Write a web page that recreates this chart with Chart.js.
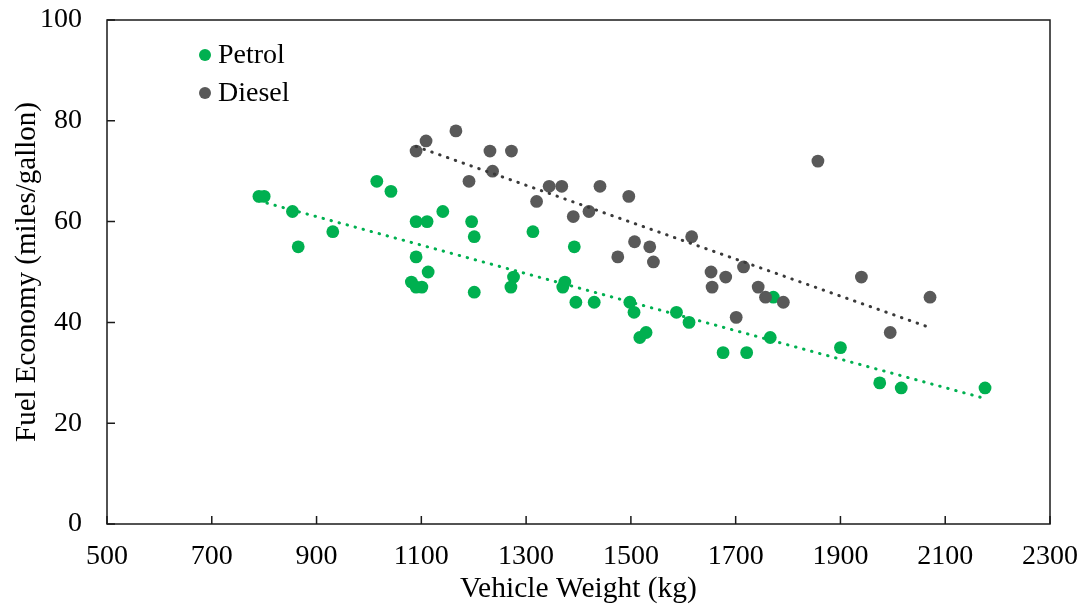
<!DOCTYPE html>
<html>
<head>
<meta charset="utf-8">
<script src="https://cdn.jsdelivr.net/npm/chart.js@4/dist/chart.umd.min.js"></script>
<style>
  html, body { margin:0; padding:0; background:#fff; }
  canvas { display:block; }
</style>
</head>
<body>
<canvas id="chart" width="1086" height="605"></canvas>
<script>
(function(){
  // Data
  const petrolWeight = [790, 800, 854, 865, 931, 1015, 1042, 1090, 1111, 1141, 1090, 1113, 1081, 1090, 1101,
                        1196, 1201, 1201, 1313, 1276, 1271, 1392, 1374, 1370, 1395, 1430, 1498, 1506, 1529, 1517,
                        1587, 1611, 1766, 1772, 1676, 1721, 1900, 1975, 2016, 2176]
  const petrolMpg    = [65, 65, 62, 55, 58, 68, 66, 60, 60, 62, 53, 50, 48, 47, 47,
                        60, 57, 46, 58, 49, 47, 55, 48, 47, 44, 44, 44, 42, 38, 37,
                        42, 40, 37, 45, 34, 34, 35, 28, 27, 27]
  const dieselWeight = [1090, 1109, 1166, 1191, 1231, 1236, 1272, 1320, 1344, 1368, 1390, 1420, 1441, 1475, 1496,
                        1507, 1536, 1543, 1616, 1653, 1681, 1655, 1715, 1743, 1757, 1791, 1701, 1857, 1940, 2071, 1995]
  const dieselMpg    = [74, 76, 78, 68, 74, 70, 74, 64, 67, 67, 61, 62, 67, 53, 65,
                        56, 55, 52, 57, 50, 49, 47, 51, 47, 45, 44, 41, 72, 49, 45, 38]

  // Linear trendline end points (as drawn in the reference)
  const petrolTrendX = [790, 2176]
  const petrolTrendY = [64.1, 24.9]
  const dieselTrendX = [1090, 2070]
  const dieselTrendY = [74.9, 39.0]

  const xTicks = [500, 700, 900, 1100, 1300, 1500, 1700, 1900, 2100, 2300]
  const yTicks = [0, 20, 40, 60, 80, 100]

  const GREEN = '#00B050'
  const GREY  = '#595959'
  const FONT  = "'Liberation Serif', 'Times New Roman', serif"
  const FSIZE = 28

  function pts(xs, ys){ return xs.map((x,i)=>({x:x, y:ys[i]})) }

  // box around plot + inside tick marks
  const frame = {
    id: 'frame',
    afterDraw(chart){
      const {ctx, chartArea:a, scales} = chart
      ctx.save()
      ctx.strokeStyle = '#1a1a1a'
      ctx.lineWidth = 1.5
      ctx.beginPath()
      xTicks.forEach(v=>{
        const px = scales.x.getPixelForValue(v)
        ctx.moveTo(px, a.bottom); ctx.lineTo(px, a.bottom-8)
      })
      yTicks.forEach(v=>{
        const py = scales.y.getPixelForValue(v)
        ctx.moveTo(a.left, py); ctx.lineTo(a.left+8, py)
      })
      ctx.stroke()
      ctx.strokeRect(a.left, a.top, a.right-a.left, a.bottom-a.top)
      ctx.restore()
    }
  }

  // legend drawn inside the plot, top-left
  const innerLegend = {
    id: 'innerLegend',
    afterDraw(chart){
      const {ctx, chartArea:a} = chart
      const items = chart.data.datasets.filter(d=>!d.isTrend)
      ctx.save()
      ctx.font = FSIZE + 'px ' + FONT
      ctx.textBaseline = 'middle'
      items.forEach((d,i)=>{
        const cy = a.top + 35 + i*38
        const cx = a.left + 98
        ctx.fillStyle = d.backgroundColor
        ctx.beginPath(); ctx.arc(cx, cy, 6, 0, Math.PI*2); ctx.fill()
        ctx.fillStyle = '#000'
        ctx.fillText(d.label, cx + 13, cy + 1)
      })
      ctx.restore()
    }
  }

  const ctx = document.getElementById('chart').getContext('2d')
  new Chart(ctx, {
    type: 'scatter',
    data: {
      datasets: [
        { label:'Petrol', data: pts(petrolWeight, petrolMpg), backgroundColor: GREEN, borderWidth:0, pointRadius:6.4, order:2 },
        { label:'Diesel', data: pts(dieselWeight, dieselMpg), backgroundColor: GREY, borderWidth:0, pointRadius:6.4, order:1 },
        { label:'Petrol trend', isTrend:true, type:'line', data: pts(petrolTrendX, petrolTrendY), borderColor: GREEN,
          borderWidth:3, borderDash:[0.5, 7.8], borderCapStyle:'round', pointRadius:0, fill:false, order:0 },
        { label:'Diesel trend', isTrend:true, type:'line', data: pts(dieselTrendX, dieselTrendY), borderColor: '#3a3a3a',
          borderWidth:3, borderDash:[0.5, 7.8], borderCapStyle:'round', pointRadius:0, fill:false, order:0 }
      ]
    },
    options: {
      responsive: false,
      animation: false,
      devicePixelRatio: 1,
      layout: { padding: { top:20, right:36, left:0, bottom:0 } },
      plugins: { legend:{ display:false }, tooltip:{ enabled:false } },
      scales: {
        x: {
          type:'linear', min:500, max:2300,
          afterBuildTicks(s){ s.ticks = xTicks.map(v=>({value:v})) },
          afterFit(s){ s.height = 81; s.paddingLeft = 0; s.paddingRight = 0 },
          grid:{ display:false, drawTicks:false },
          border:{ display:false },
          ticks:{ color:'#000', padding:16, maxRotation:0, callback:v=>String(v), font:{ family:FONT, size:FSIZE } },
          title:{ display:true, text:'Vehicle Weight (kg)', color:'#000', padding:{top:0,bottom:-2}, font:{ family:FONT, size:29.5 } }
        },
        y: {
          type:'linear', min:0, max:100,
          afterBuildTicks(s){ s.ticks = yTicks.map(v=>({value:v})) },
          afterFit(s){ s.width = 107; s.paddingTop = 0; s.paddingBottom = 0 },
          grid:{ display:false, drawTicks:false },
          border:{ display:false },
          ticks:{ color:'#000', padding:25, callback:v=>String(v), font:{ family:FONT, size:FSIZE } },
          title:{ display:true, text:'Fuel Economy (miles/gallon)', color:'#000', padding:{top:10,bottom:0}, font:{ family:FONT, size:29 } }
        }
      }
    },
    plugins: [frame, innerLegend]
  })
})();
</script>
</body>
</html>
